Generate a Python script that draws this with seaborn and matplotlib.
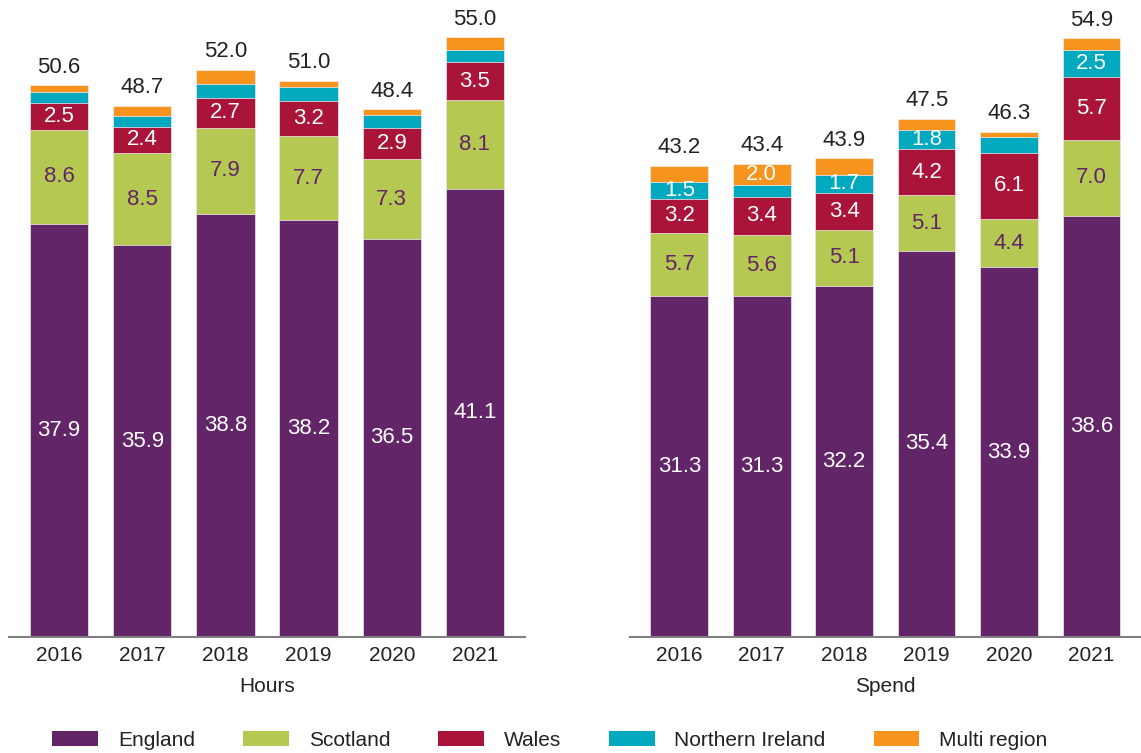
import matplotlib
matplotlib.use('Agg')
import matplotlib.pyplot as plt
import seaborn as sns
import numpy as np
import pandas as pd
from matplotlib.patches import Patch

sns.set_theme(style='white')
plt.rcParams['font.family'] = ['Liberation Sans', 'DejaVu Sans']

years = ['2016', '2017', '2018', '2019', '2020', '2021']
regions = ['England', 'Scotland', 'Wales', 'Northern Ireland', 'Multi region']
colors = ['#622567', '#b5c952', '#ab1439', '#00a9be', '#f7941d']
label_colors = ['white', '#622567', 'white', 'white', 'white']

hours_england = [37.9, 35.9, 38.8, 38.2, 36.5, 41.1]
hours_scotland = [8.6, 8.5, 7.9, 7.7, 7.3, 8.1]
hours_wales = [2.5, 2.4, 2.7, 3.2, 2.9, 3.5]
hours_ni = [1.0, 1.0, 1.3, 1.3, 1.2, 1.1]
hours_multi = [0.6, 0.9, 1.3, 0.6, 0.5, 1.2]
hours_total = [50.6, 48.7, 52.0, 51.0, 48.4, 55.0]

spend_england = [31.3, 31.3, 32.2, 35.4, 33.9, 38.6]
spend_scotland = [5.7, 5.6, 5.1, 5.1, 4.4, 7.0]
spend_wales = [3.2, 3.4, 3.4, 4.2, 6.1, 5.7]
spend_ni = [1.5, 1.1, 1.7, 1.8, 1.4, 2.5]
spend_multi = [1.5, 2.0, 1.5, 1.0, 0.5, 1.1]
spend_total = [43.2, 43.4, 43.9, 47.5, 46.3, 54.9]

# which segments carry a value label (small slices are left blank)
hours_show = [[True] * 6, [True] * 6, [True] * 6, [False] * 6, [False] * 6]
spend_show = [[True] * 6, [True] * 6, [True] * 6,
              [True, False, True, True, False, True],
              [False, True, False, False, False, False]]


def stacked_panel(ax, series, totals, show, title):
    df = pd.DataFrame(dict(zip(regions, series)))
    df['year'] = years
    cum = df[regions].cumsum(axis=1)
    # draw cumulative heights from the top layer down so each overlaps the next
    for i in range(len(regions) - 1, -1, -1):
        sns.barplot(x=df['year'], y=cum[regions[i]], order=years, color=colors[i],
                    saturation=1, width=0.7, errorbar=None, ax=ax,
                    edgecolor='#f4eef5', linewidth=0.5)
    for i, reg in enumerate(regions):
        base = cum[reg] - df[reg]
        for j in range(len(years)):
            if show[i][j]:
                ax.text(j, base[j] + df[reg][j] / 2, f'{df[reg][j]:.1f}',
                        ha='center', va='center', fontsize=16, color=label_colors[i])
    for j, t in enumerate(totals):
        ax.annotate(f'{t:.1f}', (j, cum[regions[-1]][j]), xytext=(0, 13),
                    textcoords='offset points', ha='center', va='center',
                    fontsize=16, color='#222222')
    ax.set_ylim(0, 58.4)
    ax.set_xlim(-0.6, 5.6)
    ax.set_yticks([])
    ax.set_ylabel('')
    ax.set_xlabel(title, fontsize=15, color='#222222', labelpad=8.5)
    sns.despine(ax=ax, left=True, top=True, right=True)
    ax.spines['bottom'].set_color('#808080')
    ax.spines['bottom'].set_linewidth(1.5)
    ax.tick_params(axis='x', length=0, pad=6.5, labelsize=15, labelcolor='#222222')


fig = plt.figure(figsize=(11.41, 7.53), dpi=100)
ax1 = fig.add_axes([0.008, 0.154, 0.452, 0.846])
ax2 = fig.add_axes([0.552, 0.154, 0.448, 0.846])

stacked_panel(ax1, [hours_england, hours_scotland, hours_wales, hours_ni, hours_multi],
              hours_total, hours_show, 'Hours')
stacked_panel(ax2, [spend_england, spend_scotland, spend_wales, spend_ni, spend_multi],
              spend_total, spend_show, 'Spend')

handles = [Patch(facecolor=c, edgecolor='none') for c in colors]
fig.legend(handles, regions, loc='center', bbox_to_anchor=(0.482, 0.017), ncol=5,
           frameon=False, fontsize=15, handlelength=2.2, handleheight=0.75,
           handletextpad=0.95, columnspacing=2.3, labelcolor='#222222')

fig.savefig('out.png', dpi=100)
